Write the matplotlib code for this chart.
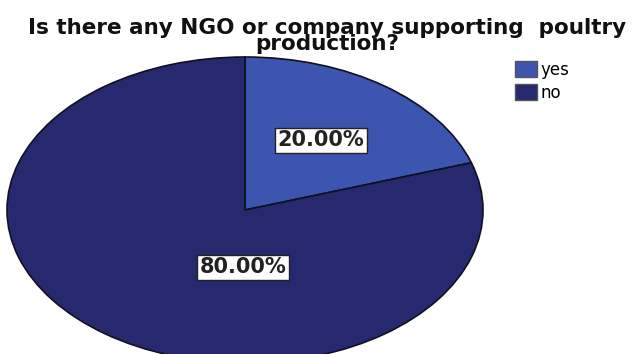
import matplotlib
matplotlib.use("Agg")
import matplotlib.pyplot as plt
from matplotlib.patches import Patch

# Survey answers and their shares (%)
categories = ["yes", "no"]
shares = [20.0, 80.0]
colors = ["#3B55B0", "#27296F"]
title = "Is there any NGO or company supporting  poultry\nproduction?"

W, H = 642, 354
fig = plt.figure(figsize=(W / 100, H / 100), dpi=100)
fig.patch.set_facecolor("white")

# Pie axes: ellipse spans x 7..483 px, centre y 210 px, vertical radius 153 px
cx, cy, rx, ry = 245, 210, 238, 153
left = (cx - rx) / W
top = cy - ry
ax = fig.add_axes([left, 0, 2 * rx / W, (H - top) / H])

wedges, texts = ax.pie(
    shares,
    colors=colors,
    startangle=90,
    counterclock=False,
    radius=1,
    wedgeprops=dict(edgecolor="#101020", linewidth=1.2),
)
ax.set_aspect("auto")
ax.set_xlim(-1, 1)
ax.set_ylim(-(H - cy) / ry, 1)
ax.axis("off")

label_pos = [(321, 140), (243, 267)]
for val, (px, py) in zip(shares, label_pos):
    fig.text(px / W, 1 - py / H, f"{val:.2f}%", ha="center", va="center",
             fontsize=15, fontweight="bold", family="DejaVu Sans", color="#222222",
             bbox=dict(boxstyle="square,pad=0.12", facecolor="white",
                       edgecolor="#222222", linewidth=1.0))

fig.text(0.5 * (18 + 637) / W, 1 - 36 / H, title, ha="center", va="center",
         fontsize=15.5, fontweight="bold", family="DejaVu Sans",
         color="#111111", linespacing=0.72)

handles = [Patch(facecolor=c, edgecolor="#555555", label=l) for c, l in zip(colors, categories)]
fig.legend(handles=handles, loc="upper left", bbox_to_anchor=(508 / W, 1 - 54 / H),
           frameon=False, handlelength=1.35, handleheight=1.05,
           handletextpad=0.2, labelspacing=0.3, borderaxespad=0,
           prop=dict(family="DejaVu Sans", size=12))

fig.savefig("out.png", dpi=100, facecolor="white")
